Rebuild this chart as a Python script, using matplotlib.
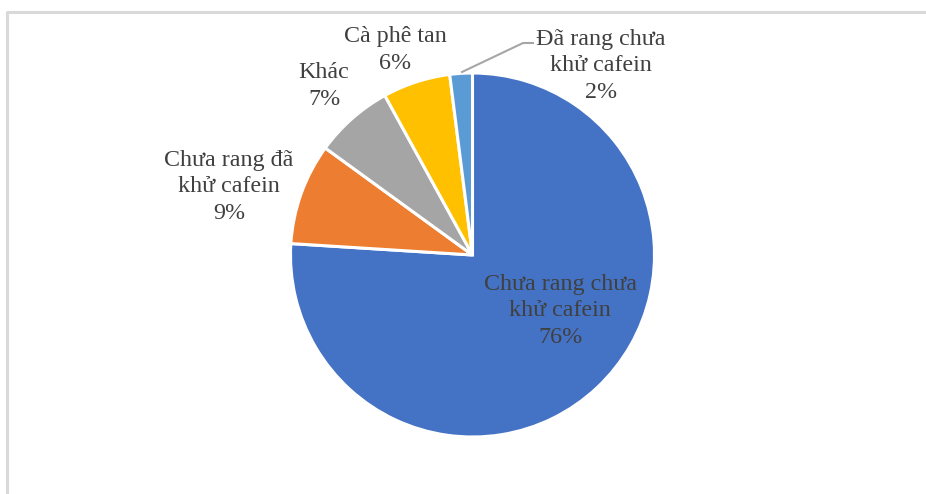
import numpy as np
import matplotlib.pyplot as plt

plt.rcParams['font.family'] = ['Liberation Serif', 'DejaVu Serif']

# du lieu
nhan = ['Chưa rang chưa\nkhử cafein', 'Chưa rang đã\nkhử cafein', 'Khác', 'Cà phê tan',
        'Đã rang chưa\nkhử cafein']
ty_le = [76, 9, 7, 6, 2]
mau = ['#4472C4', '#ED7D31', '#A5A5A5', '#FFC000', '#5B9BD5']

# vi tri nhan (pixel, goc tren trai)
vi_tri = [(560, 311), (229, 187), (324, 86), (395, 50), (601, 66)]

W, H = 926, 494
fig = plt.figure(figsize=(W / 100, H / 100), dpi=100)
ax = fig.add_axes([0, 0, 1, 1])

cx, cy, r = 472.5, H - 255, 182
ax.pie(ty_le, colors=mau, startangle=90, counterclock=False, center=(cx, cy), radius=r,
       wedgeprops=dict(edgecolor='white', linewidth=2.2), frame=True)
ax.set_xlim(0, W)
ax.set_ylim(0, H)
ax.set_aspect('equal')
ax.axis('off')

for ten, v, (x, y) in zip(nhan, ty_le, vi_tri):
    ax.text(x, H - y, '%s\n%d%%' % (ten, v), ha='center', va='center', fontsize=17.3,
            color='#404040', linespacing=1.32)

# duong dan nhan 2%
ax.plot([462, 523, 533], [H - 72, H - 43, H - 43], color='#A6A6A6', lw=1.5)

# khung
ax.plot([7, 7, W], [0, H - 12, H - 12], color='#D9D9D9', lw=2.2)

fig.savefig('out.png', dpi=100)
